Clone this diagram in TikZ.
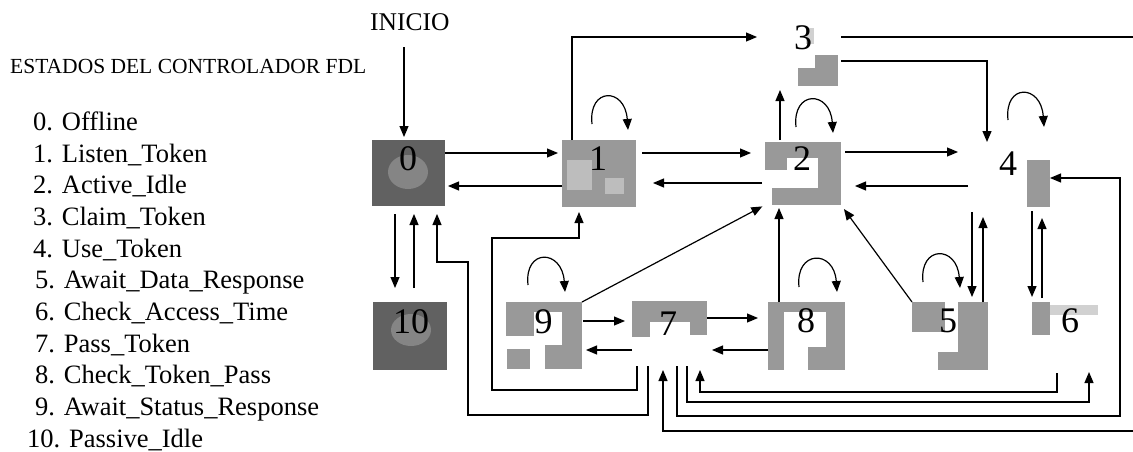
\documentclass[tikz,border=0pt]{standalone}
\usepackage{fontspec}
\setmainfont{Liberation Serif}
\usetikzlibrary{arrows.meta}
\begin{document}
\begin{tikzpicture}[x=1pt,y=-1pt,
  arr/.style={line width=1.2pt,-{Triangle[length=11pt,width=9pt]}},
  box/.style={draw=none,inner sep=0pt,outer sep=0pt},
  tex/.style={fill=black!40},
  lite/.style={fill=black!18},
  dark/.style={fill=black!62},
  digit/.style={font=\fontsize{36}{36}\selectfont,anchor=base,inner sep=0pt},
  item/.style={font=\fontsize{26.5}{30}\selectfont,anchor=base west,inner sep=0pt},
]
\useasboundingbox (0,0) rectangle (1133,452);
\clip (0,0) rectangle (1133,452);

% ---- legend ----
\node[anchor=base west,inner sep=0pt,font=\fontsize{21.5}{22}\selectfont] (title) at (10,74) {ESTADOS DEL CONTROLADOR FDL};
\node[item] (i0) at (33,130) {0. Offline};
\node[item] (i1) at (33,162) {1. Listen\_Token};
\node[item] (i2) at (33,193) {2. Active\_Idle};
\node[item] (i3) at (33,225) {3. Claim\_Token};
\node[item] (i4) at (33,257) {4. Use\_Token};
\node[item] (i5) at (35,288) {5. Await\_Data\_Response};
\node[item] (i6) at (35,320) {6. Check\_Access\_Time};
\node[item] (i7) at (35,352) {7. Pass\_Token};
\node[item] (i8) at (35,383) {8. Check\_Token\_Pass};
\node[item] (i9) at (35,415) {9. Await\_Status\_Response};
\node[item] (i10) at (27,447) {10. Passive\_Idle};

\node[anchor=base west,inner sep=0pt,font=\fontsize{25.5}{26}\selectfont] (ini) at (370,31) {INICIO};

% ---- state boxes ----
\node[box,dark,minimum width=73pt,minimum height=66pt] (n0) at (408.5,173) {};
\node[box,dark,minimum width=74pt,minimum height=68pt] (n10) at (410,336) {};
\node[box,tex,minimum width=74pt,minimum height=67pt] (n1) at (599,173.5) {};
\node[box,minimum width=76pt,minimum height=65pt] (n2) at (803,172.5) {};
\node[box,minimum width=76pt,minimum height=64pt] (n3) at (803,54) {};
\node[box,minimum width=82pt,minimum height=65pt] (n4) at (1009,174.5) {};
\node[box,minimum width=76pt,minimum height=68pt] (n5) at (950,336) {};
\node[box,minimum width=72pt,minimum height=68pt] (n6) at (1068,336) {};
\node[box,minimum width=75pt,minimum height=64pt] (n7) at (669.5,334) {};
\node[box,minimum width=77pt,minimum height=68pt] (n8) at (806.5,336) {};
\node[box,minimum width=76pt,minimum height=67pt] (n9) at (544,335.5) {};

% ---- halftone texture patches ----
\fill[black!48] (408,172) ellipse [x radius=20, y radius=17];
\fill[black!48] (411,330) ellipse [x radius=20, y radius=16];
\fill[black!26] (567,160) rectangle (592,190);
\fill[black!26] (605,178) rectangle (624,194);
% box 2
\fill[tex] (765,142) rectangle (841,158);
\fill[tex] (818,142) rectangle (841,205);
\fill[tex] (772,188) rectangle (841,205);
\fill[tex] (765,142) rectangle (787,170);
% box 3
\fill[tex] (815,55) rectangle (838,86);
\fill[tex] (798,68) rectangle (838,86);
\fill[lite] (806,28) rectangle (814,44);
% box 4
\fill[tex] (1027,160) rectangle (1050,207);
% box 5
\fill[tex] (912,302) rectangle (945,332);
\fill[tex] (958,302) rectangle (988,370);
\fill[tex] (938,352) rectangle (988,370);
% box 6
\fill[tex] (1032,302) rectangle (1050,335);
\fill[lite] (1050,305) rectangle (1098,315);
% box 7
\fill[tex] (632,301) rectangle (707,322);
\fill[tex] (632,301) rectangle (650,337);
\fill[tex] (690,301) rectangle (707,335);
% box 8
\fill[tex] (768,302) rectangle (784,370);
\fill[tex] (768,302) rectangle (845,312);
\fill[tex] (826,302) rectangle (845,370);
\fill[tex] (808,347) rectangle (845,370);
% box 9
\fill[tex] (506,302) rectangle (534,336);
\fill[tex] (506,302) rectangle (582,312);
\fill[tex] (562,302) rectangle (582,369);
\fill[tex] (545,345) rectangle (582,369);
\fill[tex] (507,349) rectangle (530,369);

% ---- digits ----
\node[digit] (d0) at (408,170) {0};
\node[digit] (d1) at (598,170) {1};
\node[digit] (d2) at (802,170) {2};
\node[digit] (d3) at (803,50) {3};
\node[digit] (d4) at (1008,175) {4};
\node[digit] (d5) at (948,332) {5};
\node[digit] (d6) at (1070,332) {6};
\node[digit] (d7) at (668,335) {7};
\node[digit] (d8) at (806,332) {8};
\node[digit] (d9) at (543.5,333) {9};
\node[digit] (d10) at (411,333) {10};

% ---- connectors ----
\draw[arr,shorten <=16pt,shorten >=3pt] (ini.south -| 404,0) -- (n0.north -| 404,0);
\draw[arr,shorten >=4pt] (n0.east |- 0,153) -- (n1.west |- 0,153);
\draw[arr,shorten >=3pt] (n1.west |- 0,186) -- (n0.east |- 0,186);
\draw[arr,shorten <=6pt,shorten >=14pt] (n1.east |- 0,153) -- (n2.west |- 0,153);
\draw[arr,shorten <=3pt,shorten >=17pt] (n2.west |- 0,183) -- (n1.east |- 0,183);
\draw[arr,shorten <=4pt,shorten >=10pt] (n2.east |- 0,152) -- (n4.west |- 0,152);
\draw[arr,shorten >=14pt] (n4.west |- 0,186) -- (n2.east |- 0,186);
\draw[arr,shorten >=4pt] (n2.north -| 780,0) -- (n3.south -| 780,0);
\draw[arr,shorten >=8pt] (n1.north -| 572,0) |- (n3.west |- 0,37);
\draw[arr] (n3.east |- 0,61) -| (n4.north -| 987,0);
\draw[arr,shorten >=4pt] (n3.east |- 0,37) -- (1150,37) -- (1150,431) -| (n7.south -| 663,0);
\draw[arr] (n7.south -| 677,0) |- (1120,416) |- (n4.east |- 0,178);
\draw[arr,shorten >=2pt] (n7.south -| 687,0) |- (1089,402) -- (n6.south -| 1089,0);
\draw[arr,shorten <=3pt,shorten >=4pt] (n6.south -| 1057,0) |- (700,392) -- (n7.south -| 700,0);
\draw[arr,shorten >=5pt] (n7.south -| 637,0) |- (492,390) |- (579,238) -- (n1.south -| 579,0);
\draw[arr,shorten >=8pt] (n7.south -| 648,0) |- (468,415) |- (437,262) -- (n0.south -| 437,0);
\draw[arr,shorten <=8pt,shorten >=14pt] (n0.south -| 395,0) -- (n10.north -| 395,0);
\draw[arr,shorten <=14pt,shorten >=8pt] (n10.north -| 414,0) -- (n0.south -| 414,0);
\draw[arr,shorten <=1pt,shorten >=7pt] (n9.east |- 0,321) -- (n7.west |- 0,321);
\draw[arr,shorten >=4pt] (n7.west |- 0,350) -- (n9.east |- 0,350);
\draw[arr,shorten >=10pt] (n7.east |- 0,318) -- (n8.west |- 0,318);
\draw[arr,shorten >=5pt] (n8.west |- 0,350) -- (n7.east |- 0,350);
\draw[arr,shorten >=3pt] (n9.north east) -- (n2.south west);
\draw[arr,shorten >=3pt] (n8.north -| 779,0) -- (n2.south -| 779,0);
\draw[arr,shorten >=5pt] (n5.north west) -- (n2.south east);
\draw[arr,shorten <=5pt,shorten >=5pt] (n4.south -| 972,0) -- (n5.north -| 972,0);
\draw[arr,shorten >=10pt] (n5.north -| 983,0) -- (n4.south -| 983,0);
\draw[arr,shorten <=4pt,shorten >=5pt] (n4.south -| 1032,0) -- (n6.north -| 1032,0);
\draw[arr,shorten <=4pt,shorten >=11pt] (n6.north -| 1042,0) -- (n4.south -| 1042,0);

% ---- self loops ----
\draw[arr] ([xshift=-7pt,yshift=16pt]n1.north) .. controls +(-4,-37) and +(-3,-43) .. ([xshift=29pt,yshift=10pt]n1.north);
\draw[arr] ([xshift=-7pt,yshift=13pt]n2.north) .. controls +(-4,-37) and +(-3,-43) .. ([xshift=30pt,yshift=7pt]n2.north);
\draw[arr] ([xshift=-1pt,yshift=22pt]n4.north) .. controls +(-4,-37) and +(-3,-43) .. ([xshift=35pt,yshift=15pt]n4.north);
\draw[arr] ([xshift=-16pt,yshift=17pt]n9.north) .. controls +(-4,-37) and +(-3,-43) .. ([xshift=21pt,yshift=10pt]n9.north);
\draw[arr] ([xshift=-7.5pt,yshift=15pt]n8.north) .. controls +(-4,-37) and +(-3,-43) .. ([xshift=30.5pt,yshift=10pt]n8.north);
\draw[arr] ([xshift=-27pt,yshift=20pt]n5.north) .. controls +(-4,-37) and +(-3,-43) .. ([xshift=10pt,yshift=14pt]n5.north);
\end{tikzpicture}
\end{document}
